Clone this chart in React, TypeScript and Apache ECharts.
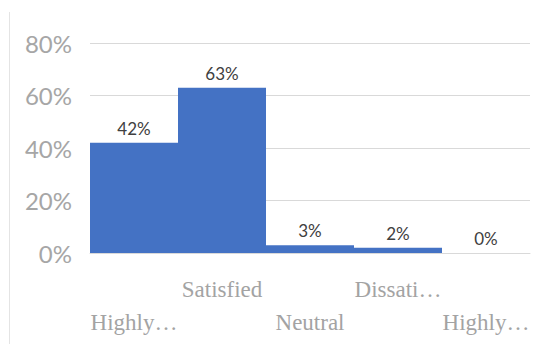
import React, { useEffect, useRef } from "react";
import * as echarts from "echarts";

const categories = ["Highly Satisfied", "Satisfied", "Neutral", "Dissatisfied", "Highly Dissatisfied"];
const shownLabels = ["Highly…", "Satisfied", "Neutral", "Dissati…", "Highly…"];
const values = [42, 63, 3, 2, 0];
const yTicks = [0, 20, 40, 60, 80];

export default function App() {
  const ref = useRef<HTMLDivElement>(null);
  useEffect(() => {
    if (!ref.current) return;
    const chart = echarts.init(ref.current, undefined, { renderer: "svg" });
    chart.setOption({
      animation: false,
      graphic: [
        {
          type: "line",
          shape: { x1: 9.5, y1: 12, x2: 9.5, y2: 344 },
          style: { stroke: "#e4e4e4", lineWidth: 1 },
        },
      ],
      grid: { left: 90, right: 9, top: 43, bottom: 91 },
      xAxis: {
        type: "category",
        data: categories,
        axisLine: { show: true, lineStyle: { color: "#d9d9d9", width: 1 } },
        axisTick: { show: false },
        axisLabel: {
          interval: 0,
          margin: 20,
          verticalAlign: "top",
          lineHeight: 33,
          fontFamily: "'Liberation Serif', 'DejaVu Serif', serif",
          fontSize: 23,
          color: "#a3a3a3",
          formatter: (_v: string, i: number) => (i % 2 === 0 ? "\n" : "") + shownLabels[i],
        },
      },
      yAxis: {
        type: "value",
        min: yTicks[0],
        max: yTicks[yTicks.length - 1],
        interval: 20,
        axisLine: { show: false },
        axisTick: { show: false },
        splitLine: { lineStyle: { color: "#d9d9d9", width: 1 } },
        axisLabel: {
          margin: 18,
          fontFamily: "Lato",
          fontSize: 24,
          color: "#a6a6a6",
          formatter: "{value}%",
        },
      },
      series: [
        {
          type: "bar",
          data: values,
          barCategoryGap: "0%",
          itemStyle: { color: "#4472C4" },
          label: {
            show: true,
            position: "top",
            distance: 6,
            fontFamily: "Lato",
            fontSize: 17,
            color: "#404040",
            formatter: "{c}%",
          },
        },
      ],
    });
    return () => chart.dispose();
  }, []);
  return (
    <div
      ref={ref}
      style={{ position: "absolute", left: 0, top: 0, width: 539, height: 344, background: "#fff" }}
    />
  );
}
